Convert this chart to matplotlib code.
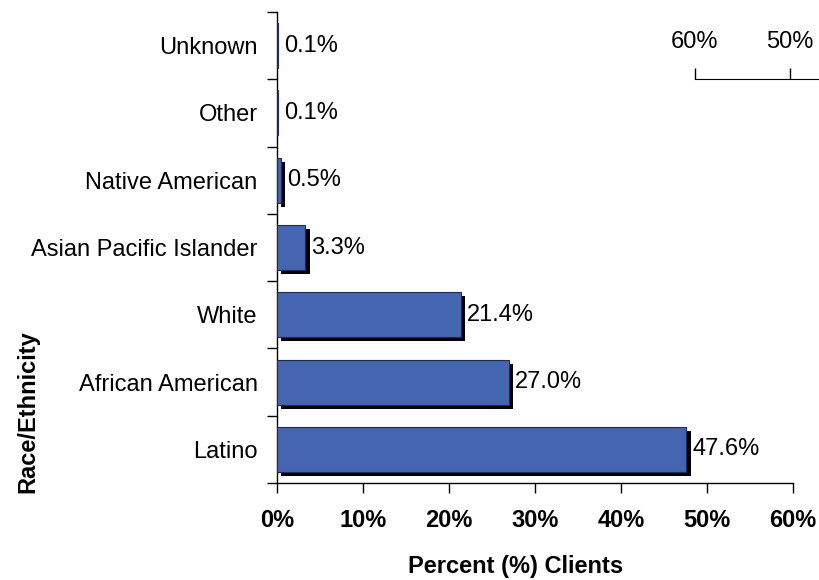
import numpy as np
import matplotlib.pyplot as plt
import matplotlib.patheffects as pe
from matplotlib.ticker import FixedLocator

plt.rcParams['font.family'] = ['Liberation Sans', 'DejaVu Sans']

# data
categories = ['Latino', 'African American', 'White', 'Asian Pacific Islander',
              'Native American', 'Other', 'Unknown']
percent = [47.6, 27.0, 21.4, 3.3, 0.5, 0.1, 0.1]
xticks = [0, 10, 20, 30, 40, 50, 60]

FS = 17

fig = plt.figure(figsize=(8.2, 5.8), dpi=100)
ax = fig.add_axes([277 / 820, 1 - 483 / 580, (793 - 277) / 820, (483 - 12) / 580])

y = np.arange(len(categories))
bars = ax.barh(y, percent, height=0.67, color='#4565B0', edgecolor='#1f2a55',
               linewidth=0.8, zorder=3)
for b, v in zip(bars, percent):
    # tiny bars show no shadow in the original
    if v >= 0.2:
        b.set_path_effects([pe.SimplePatchShadow(offset=(3, -3), shadow_rgbFace='black',
                                                 alpha=1.0), pe.Normal()])

for yi, v in zip(y, percent):
    ax.text(v + 0.7, yi, '{:.1f}%'.format(v), va='center', ha='left', fontsize=FS)

ax.set_xlim(0, 60)
ax.set_ylim(-0.5, len(categories) - 0.5)
ax.set_xticks(xticks)
ax.set_xticklabels(['{}%'.format(t) for t in xticks], fontweight='bold', fontsize=FS)
ax.set_yticks(y)
ax.set_yticklabels(categories, fontsize=FS)
ax.yaxis.set_minor_locator(FixedLocator(np.arange(-0.5, len(categories), 1.0)))
ax.tick_params(axis='y', which='major', length=0, pad=14)
ax.tick_params(axis='y', which='minor', length=7, width=1, direction='out')
ax.tick_params(axis='x', length=7, width=1, direction='out', pad=12)

for s in ['top', 'right']:
    ax.spines[s].set_visible(False)
for s in ['left', 'bottom']:
    ax.spines[s].set_linewidth(1)

ax.set_xlabel('Percent (%) Clients', fontweight='bold', fontsize=FS, va='center')
ax.xaxis.set_label_coords((516 - 277) / 516, (483 - 566) / 471)
ax.set_ylabel('Race/Ethnicity', fontweight='bold', fontsize=FS, va='center')
ax.yaxis.set_label_coords((28 - 277) / 516, (483 - 412) / 471)

# stray reversed axis fragment in the upper right
ax2 = fig.add_axes([695 / 820, 1 - 79 / 580, 190 / 820, 22 / 580])
ax2.set_xlim(60, 60 - 190 / 9.5)
ax2.set_xticks([60, 50])
ax2.set_xticklabels(['60%', '50%'], fontsize=FS)
ax2.set_yticks([])
ax2.patch.set_visible(False)
for s in ['top', 'right', 'left']:
    ax2.spines[s].set_visible(False)
ax2.tick_params(axis='x', direction='in', length=8, width=1, top=False, bottom=True,
                labeltop=True, labelbottom=False, pad=3)

fig.savefig('out.png', dpi=100)
